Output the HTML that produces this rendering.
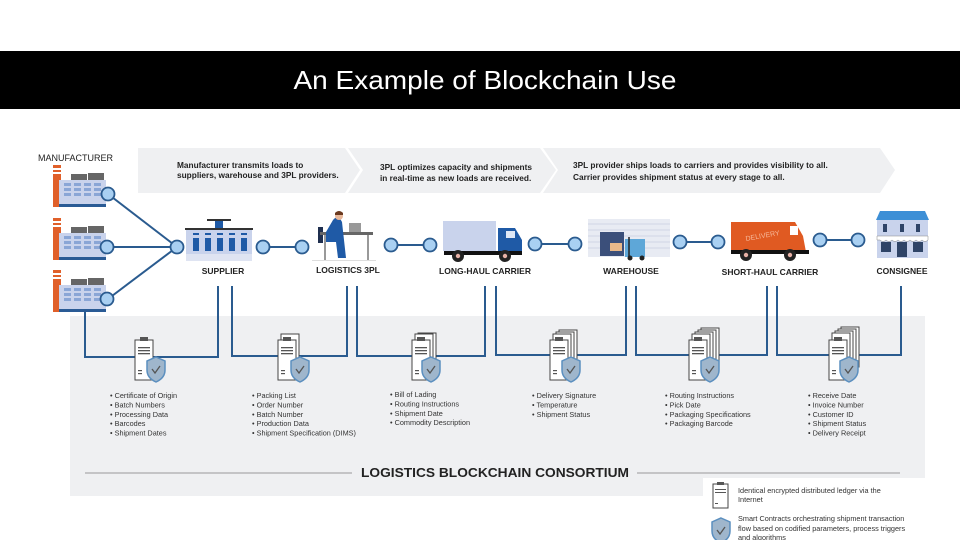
<!DOCTYPE html>
<html><head><meta charset="utf-8"><style>
html,body{margin:0;padding:0;background:#fff;}
svg{display:block;font-family:"Liberation Sans",sans-serif;}
</style></head><body>
<svg width="960" height="540" viewBox="0 0 960 540" xmlns="http://www.w3.org/2000/svg">
<defs>
<g id="fac">
  <rect x="0" y="0" width="8" height="42" fill="#e0602a"/>
  <rect x="0" y="3" width="8" height="2" fill="#fff"/>
  <rect x="0" y="7" width="8" height="2" fill="#fff"/>
  <rect x="18" y="9" width="16" height="6" fill="#666"/>
  <rect x="35" y="8" width="16" height="7" fill="#666"/>
  <rect x="6" y="15" width="47" height="24" fill="#c9d3ec"/>
  <g fill="#8aa6d6">
    <rect x="11" y="18" width="7" height="3"/><rect x="21" y="18" width="7" height="3"/><rect x="31" y="18" width="7" height="3"/><rect x="41" y="18" width="7" height="3"/>
    <rect x="11" y="23" width="7" height="3"/><rect x="21" y="23" width="7" height="3"/><rect x="31" y="23" width="7" height="3"/><rect x="41" y="23" width="7" height="3"/>
    <rect x="11" y="28" width="7" height="3"/><rect x="21" y="28" width="7" height="3"/><rect x="31" y="28" width="7" height="3"/><rect x="41" y="28" width="7" height="3"/>
  </g>
  <rect x="6" y="39" width="47" height="3" fill="#2a5b95"/>
</g>
<g id="shield">
  <path d="M9 0 L18 4 L18 13 Q18 21 9 25 Q0 21 0 13 L0 4 Z" fill="#9fb6cc" stroke="#5b8fbf" stroke-width="1.5"/>
  <path d="M5 12 L8 16 L13 9" fill="none" stroke="#555" stroke-width="1.3"/>
</g>
<g id="doc">
  <rect x="0" y="4" width="18" height="40" fill="#fff" stroke="#444" stroke-width="1"/>
  <rect x="5" y="1" width="8" height="4" fill="#555"/>
  <rect x="3" y="11" width="12" height="1.3" fill="#555"/>
  <rect x="3" y="14" width="12" height="1.3" fill="#555"/>
  <rect x="3" y="17" width="12" height="1.3" fill="#555"/>
  <rect x="3" y="34" width="4" height="1.2" fill="#555"/>
  <rect x="3" y="37" width="4" height="1.2" fill="#555"/>
</g>
</defs>

<!-- title bar -->
<rect x="0" y="51" width="960" height="58" fill="#000"/>
<text x="485" y="89" font-size="26" fill="#fff" text-anchor="middle" textLength="383" lengthAdjust="spacingAndGlyphs">An Example of Blockchain Use</text>

<!-- grey panel -->
<rect x="70" y="316" width="855" height="180" fill="#eff0f2"/>
<rect x="703" y="478" width="222" height="62" fill="#fff"/>

<!-- banners -->
<polygon points="138,148 345,148 360,170 345,193 138,193" fill="#eff0f2"/>
<polygon points="348,148 540,148 556,170 540,193 348,193 363,170" fill="#eff0f2"/>
<polygon points="543,148 880,148 895,170 880,193 543,193 558,170" fill="#eff0f2"/>
<g font-size="8.3" fill="#222" font-weight="bold">
<text x="177" y="168">Manufacturer transmits loads to</text>
<text x="177" y="178">suppliers, warehouse and 3PL providers.</text>
<text x="380" y="170">3PL optimizes capacity and shipments</text>
<text x="380" y="181">in real-time as new loads are received.</text>
<text x="573" y="168">3PL provider ships loads to carriers and provides visibility to all.</text>
<text x="573" y="180">Carrier provides shipment status at every stage to all.</text>
</g>

<text x="38" y="161" font-size="9" fill="#222">MANUFACTURER</text>

<!-- factories -->
<use href="#fac" x="53" y="165"/>
<use href="#fac" x="53" y="218"/>
<use href="#fac" x="53" y="270"/>

<!-- connector lines -->
<g stroke="#2a5b8f" stroke-width="2" fill="none">
<line x1="108" y1="194" x2="177" y2="247"/>
<line x1="108" y1="247" x2="177" y2="247"/>
<line x1="108" y1="299" x2="177" y2="247"/>
<line x1="263" y1="247" x2="302" y2="247"/>
<line x1="391" y1="245" x2="430" y2="245"/>
<line x1="535" y1="244" x2="575" y2="244"/>
<line x1="680" y1="242" x2="718" y2="242"/>
<line x1="820" y1="240" x2="858" y2="240"/>
<polyline points="85,312 85,357 218,357 218,286"/>
<polyline points="232,286 232,356 347,356 347,286"/>
<polyline points="357,286 357,356 485,356 485,286"/>
<polyline points="496,286 496,355 626,355 626,286"/>
<polyline points="636,286 636,355 767,355 767,286"/>
<polyline points="777,286 777,355 901,355 901,286"/>
</g>
<g fill="#a9d0f2" stroke="#2a5b8f" stroke-width="1.8">
<circle cx="108" cy="194" r="6.5"/><circle cx="107" cy="247" r="6.5"/><circle cx="107" cy="299" r="6.5"/>
<circle cx="177" cy="247" r="6.5"/>
<circle cx="263" cy="247" r="6.5"/><circle cx="302" cy="247" r="6.5"/>
<circle cx="391" cy="245" r="6.5"/><circle cx="430" cy="245" r="6.5"/>
<circle cx="535" cy="244" r="6.5"/><circle cx="575" cy="244" r="6.5"/>
<circle cx="680" cy="242" r="6.5"/><circle cx="718" cy="242" r="6.5"/>
<circle cx="820" cy="240" r="6.5"/><circle cx="858" cy="240" r="6.5"/>
</g>

<!-- supplier -->
<rect x="207" y="219" width="24" height="2" fill="#333"/>
<rect x="215" y="221" width="8" height="7" fill="#1f5aa6"/>
<rect x="185" y="228" width="68" height="2" fill="#333"/>
<rect x="186" y="230" width="66" height="24" fill="#c9d3ec"/>
<g fill="#1f5aa6"><rect x="193" y="233" width="6" height="2"/><rect x="205" y="233" width="6" height="2"/><rect x="217" y="233" width="6" height="2"/><rect x="229" y="233" width="6" height="2"/><rect x="241" y="233" width="6" height="2"/>
<rect x="193" y="238" width="6" height="13"/><rect x="205" y="238" width="6" height="13"/><rect x="217" y="238" width="6" height="13"/><rect x="229" y="238" width="6" height="13"/><rect x="241" y="238" width="6" height="13"/></g>
<rect x="186" y="254" width="66" height="7" fill="#dfe4f2"/>

<!-- 3PL person -->
<rect x="318" y="227" width="5" height="16" fill="#1f2f4f"/>
<rect x="320" y="232" width="53" height="3" fill="#666"/>
<line x1="325" y1="235" x2="325" y2="260" stroke="#777" stroke-width="1.5"/>
<line x1="368" y1="235" x2="368" y2="260" stroke="#777" stroke-width="1.5"/>
<path d="M333 220 Q338 214 342 222 L344 240 L346 258 L338 258 L336 242 L326 242 L326 232 Z" fill="#1f5aa6"/>
<circle cx="339" cy="216" r="4" fill="#e8b89a"/>
<path d="M335 213 Q339 209 343 213 L343 215 L335 215 Z" fill="#6b3a1f"/>
<rect x="349" y="223" width="12" height="9" fill="#999"/>
<rect x="312" y="260" width="64" height="1" fill="#ddd"/>

<!-- truck -->
<rect x="443" y="221" width="53" height="30" fill="#c9d3ec"/>
<path d="M498 228 L515 228 L522 240 L522 252 L498 252 Z" fill="#1f5aa6"/>
<rect x="506" y="231" width="9" height="7" fill="#dfe8f6"/>
<rect x="444" y="251" width="78" height="4" fill="#111"/>
<circle cx="458" cy="256" r="6" fill="#222"/><circle cx="458" cy="256" r="2.2" fill="#e7b1a6"/>
<circle cx="505" cy="256" r="6" fill="#222"/><circle cx="505" cy="256" r="2.2" fill="#e7b1a6"/>

<!-- warehouse -->
<rect x="588" y="219" width="82" height="38" fill="#e8ebf3"/>
<g stroke="#d0d6e4" stroke-width="1"><line x1="588" y1="224" x2="670" y2="224"/><line x1="588" y1="230" x2="670" y2="230"/><line x1="588" y1="236" x2="670" y2="236"/><line x1="588" y1="242" x2="670" y2="242"/><line x1="588" y1="248" x2="670" y2="248"/></g>
<rect x="600" y="232" width="24" height="24" fill="#3b4f7a"/>
<rect x="610" y="243" width="12" height="8" fill="#e9b98a"/>
<rect x="625" y="239" width="20" height="18" fill="#5ea7d8"/>
<line x1="629" y1="237" x2="629" y2="257" stroke="#222" stroke-width="1.5"/>
<circle cx="630" cy="258" r="2.5" fill="#222"/><circle cx="642" cy="258" r="2.5" fill="#222"/>

<!-- van -->
<path d="M731 222 L795 222 L803 236 L806 252 L731 252 Z" fill="#e05a22"/>
<rect x="790" y="226" width="8" height="9" fill="#fff"/>
<text x="746" y="241" font-size="7" fill="#f6b89a" transform="rotate(-10 746 241)">DELIVERY</text>
<rect x="731" y="250" width="78" height="4" fill="#111"/>
<circle cx="746" cy="255" r="6" fill="#222"/><circle cx="746" cy="255" r="2.2" fill="#e7b1a6"/>
<circle cx="790" cy="255" r="6" fill="#222"/><circle cx="790" cy="255" r="2.2" fill="#e7b1a6"/>

<!-- consignee -->
<path d="M876 220 L880 211 L925 211 L929 220 Z" fill="#3d8fd6"/>
<rect x="877" y="220" width="51" height="38" fill="#c9d3ec"/>
<g fill="#2f4467"><rect x="883" y="224" width="4" height="8"/><rect x="900" y="224" width="4" height="8"/><rect x="916" y="224" width="4" height="8"/>
<rect x="881" y="242" width="10" height="10"/><rect x="897" y="242" width="10" height="15"/><rect x="913" y="242" width="10" height="10"/></g>
<path d="M877 236 L928 236 L928 240 Q925 243 922 240 Q919 243 916 240 Q913 243 910 240 Q907 243 904 240 Q901 243 898 240 Q895 243 892 240 Q889 243 886 240 Q883 243 880 240 L877 240 Z" fill="#fff" stroke="#888" stroke-width="0.5"/>

<!-- node labels -->
<g font-size="8.5" font-weight="bold" fill="#222" text-anchor="middle">
<text x="223" y="274">SUPPLIER</text>
<text x="348" y="273">LOGISTICS 3PL</text>
<text x="485" y="274">LONG-HAUL CARRIER</text>
<text x="631" y="274">WAREHOUSE</text>
<text x="770" y="275">SHORT-HAUL CARRIER</text>
<text x="902" y="274">CONSIGNEE</text>
</g>

<!-- documents -->
<use href="#doc" x="135" y="336"/><use href="#shield" x="147" y="357"/>
<rect x="281" y="334" width="18" height="40" fill="#fff" stroke="#444"/>
<use href="#doc" x="278" y="336"/><use href="#shield" x="291" y="357"/>
<rect x="418" y="333" width="18" height="40" fill="#fff" stroke="#444"/><rect x="415" y="334" width="18" height="40" fill="#fff" stroke="#444"/>
<use href="#doc" x="412" y="336"/><use href="#shield" x="422" y="357"/>
<rect x="559" y="330" width="18" height="40" fill="#fff" stroke="#444"/><rect x="556" y="332" width="18" height="40" fill="#fff" stroke="#444"/><rect x="553" y="334" width="18" height="40" fill="#fff" stroke="#444"/>
<use href="#doc" x="550" y="336"/><use href="#shield" x="562" y="357"/>
<rect x="701" y="328" width="18" height="40" fill="#fff" stroke="#444"/><rect x="698" y="330" width="18" height="40" fill="#fff" stroke="#444"/><rect x="695" y="332" width="18" height="40" fill="#fff" stroke="#444"/><rect x="692" y="334" width="18" height="40" fill="#fff" stroke="#444"/>
<use href="#doc" x="689" y="336"/><use href="#shield" x="701" y="357"/>
<rect x="841" y="327" width="18" height="40" fill="#fff" stroke="#444"/><rect x="838" y="329" width="18" height="40" fill="#fff" stroke="#444"/><rect x="835" y="331" width="18" height="40" fill="#fff" stroke="#444"/><rect x="832" y="333" width="18" height="40" fill="#fff" stroke="#444"/>
<use href="#doc" x="829" y="336"/><use href="#shield" x="840" y="357"/>

<!-- bullet lists -->
<g font-size="7.3" fill="#333">
<text x="110" y="398"><tspan x="110">• Certificate of Origin</tspan><tspan x="110" dy="9.4">• Batch Numbers</tspan><tspan x="110" dy="9.4">• Processing Data</tspan><tspan x="110" dy="9.4">• Barcodes</tspan><tspan x="110" dy="9.4">• Shipment Dates</tspan></text>
<text x="252" y="398"><tspan x="252">• Packing List</tspan><tspan x="252" dy="9.4">• Order Number</tspan><tspan x="252" dy="9.4">• Batch Number</tspan><tspan x="252" dy="9.4">• Production Data</tspan><tspan x="252" dy="9.4">• Shipment Specification (DIMS)</tspan></text>
<text x="390" y="397"><tspan x="390">• Bill of Lading</tspan><tspan x="390" dy="9.4">• Routing Instructions</tspan><tspan x="390" dy="9.4">• Shipment Date</tspan><tspan x="390" dy="9.4">• Commodity Description</tspan></text>
<text x="532" y="398"><tspan x="532">• Delivery Signature</tspan><tspan x="532" dy="9.4">• Temperature</tspan><tspan x="532" dy="9.4">• Shipment Status</tspan></text>
<text x="665" y="398"><tspan x="665">• Routing Instructions</tspan><tspan x="665" dy="9.4">• Pick Date</tspan><tspan x="665" dy="9.4">• Packaging Specifications</tspan><tspan x="665" dy="9.4">• Packaging Barcode</tspan></text>
<text x="808" y="398"><tspan x="808">• Receive Date</tspan><tspan x="808" dy="9.4">• Invoice Number</tspan><tspan x="808" dy="9.4">• Customer ID</tspan><tspan x="808" dy="9.4">• Shipment Status</tspan><tspan x="808" dy="9.4">• Delivery Receipt</tspan></text>
</g>

<!-- consortium -->
<line x1="85" y1="473" x2="352" y2="473" stroke="#999" stroke-width="1"/>
<line x1="637" y1="473" x2="900" y2="473" stroke="#999" stroke-width="1"/>
<text x="495" y="477" font-size="13" font-weight="bold" fill="#222" text-anchor="middle" textLength="268" lengthAdjust="spacingAndGlyphs">LOGISTICS BLOCKCHAIN CONSORTIUM</text>

<!-- legend -->
<rect x="713" y="484" width="15" height="24" fill="#fff" stroke="#444"/>
<rect x="717" y="482" width="7" height="3" fill="#555"/>
<rect x="715" y="489" width="11" height="1" fill="#555"/><rect x="715" y="492" width="11" height="1" fill="#555"/>
<rect x="715" y="503" width="3" height="1" fill="#555"/>
<use href="#shield" x="712" y="518" transform="scale(1)"/>
<g font-size="7.3" fill="#333">
<text x="738" y="493">Identical encrypted distributed ledger via the</text>
<text x="738" y="502">Internet</text>
<text x="738" y="521">Smart Contracts orchestrating shipment transaction</text>
<text x="738" y="531">flow based on codified parameters, process triggers</text>
<text x="738" y="540">and algorithms</text>
</g>
</svg>
</body></html>
